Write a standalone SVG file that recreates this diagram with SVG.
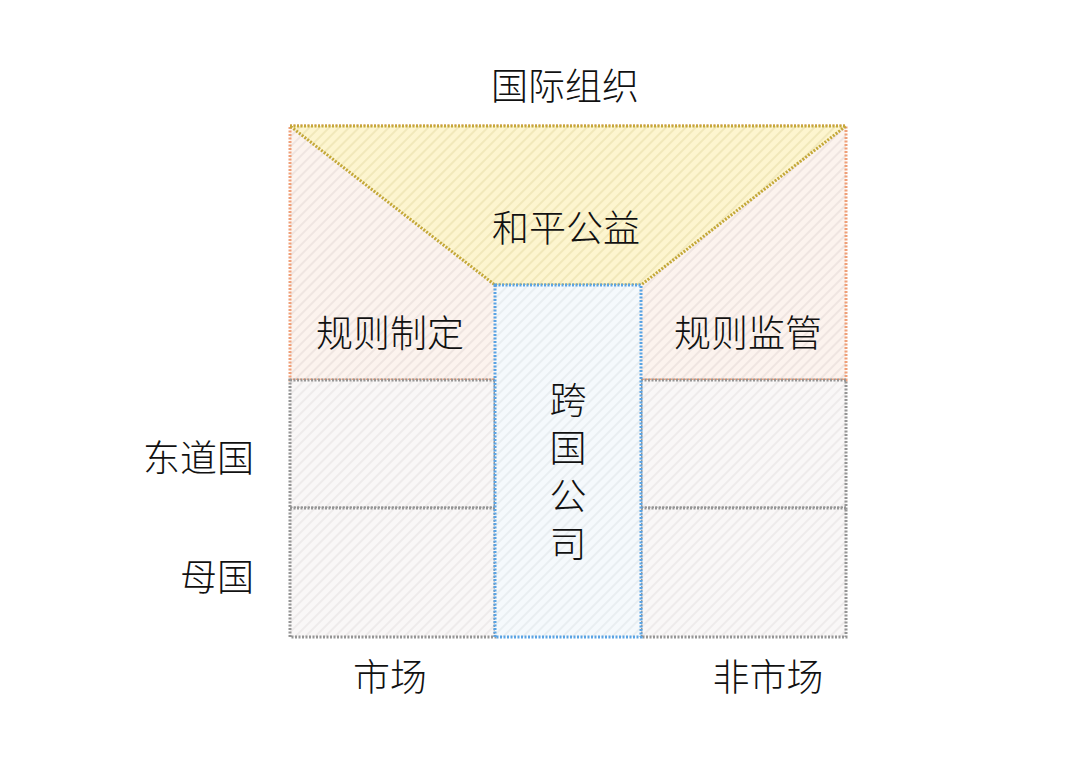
<svg xmlns="http://www.w3.org/2000/svg" width="1080" height="775" viewBox="0 0 1080 775">
<style>
text{font-family:"Noto Sans CJK SC","Noto Sans CJK JP",sans-serif;font-size:37px;font-weight:300;fill:#111111;}
.c{text-anchor:middle;}
.r{text-anchor:end;}
.v{writing-mode:vertical-rl;letter-spacing:11px;}
.b{stroke-width:3;stroke-dasharray:2 1.5;}
</style>
<defs>
<pattern id="hOr" width="7" height="7" patternUnits="userSpaceOnUse" patternTransform="rotate(45)">
<rect width="7" height="7" fill="#fcf3ee"/><line x1="1" y1="0" x2="1" y2="7" stroke="#e3d8d4" stroke-width="1"/>
</pattern>
<pattern id="hYe" width="7" height="7" patternUnits="userSpaceOnUse" patternTransform="rotate(45)">
<rect width="7" height="7" fill="#fdf5cf"/><line x1="1" y1="0" x2="1" y2="7" stroke="#e6dba6" stroke-width="1"/>
</pattern>
<pattern id="hGr" width="7" height="7" patternUnits="userSpaceOnUse" patternTransform="rotate(45)">
<rect width="7" height="7" fill="#f9f7f7"/><line x1="1" y1="0" x2="1" y2="7" stroke="#e3e0e0" stroke-width="1"/>
</pattern>
<pattern id="hBl" width="7" height="7" patternUnits="userSpaceOnUse" patternTransform="rotate(45)">
<rect width="7" height="7" fill="#f5f9fc"/><line x1="1" y1="0" x2="1" y2="7" stroke="#dee3e7" stroke-width="1"/>
</pattern>
</defs>
<rect width="1080" height="775" fill="#ffffff"/>

<g id="rules-region">
<rect class="b" x="290" y="126" width="556" height="254" fill="url(#hOr)" stroke="#ef9f78"/>
</g>

<g id="cell-host-market">
<rect class="b" x="290" y="380" width="205" height="128" fill="url(#hGr)" stroke="#959595"/>
</g>
<g id="cell-home-market">
<rect class="b" x="290" y="508" width="205" height="129" fill="url(#hGr)" stroke="#959595"/>
</g>
<g id="cell-host-nonmarket">
<rect class="b" x="641" y="380" width="205" height="128" fill="url(#hGr)" stroke="#959595"/>
</g>
<g id="cell-home-nonmarket">
<rect class="b" x="641" y="508" width="205" height="129" fill="url(#hGr)" stroke="#959595"/>
</g>

<g id="peace-public">
<polygon class="b" points="290,126 846,126 641,285 495,285" fill="url(#hYe)" stroke="#c4a838"/>
<text class="c" x="566" y="242">和平公益</text>
</g>

<g id="mnc">
<rect class="b" x="495" y="285" width="146" height="352" fill="url(#hBl)" stroke="#5aa3e3"/>
<text class="v" x="568" y="381">跨国公司</text>
</g>

<g id="labels">
<text class="c" x="565" y="100">国际组织</text>
<text class="c" x="390" y="347">规则制定</text>
<text class="c" x="748" y="347">规则监管</text>
<text class="r" x="254" y="472">东道国</text>
<text class="r" x="254" y="591">母国</text>
<text class="c" x="390" y="691">市场</text>
<text class="c" x="768" y="691">非市场</text>
</g>
<g id="connectors"></g>
</svg>
